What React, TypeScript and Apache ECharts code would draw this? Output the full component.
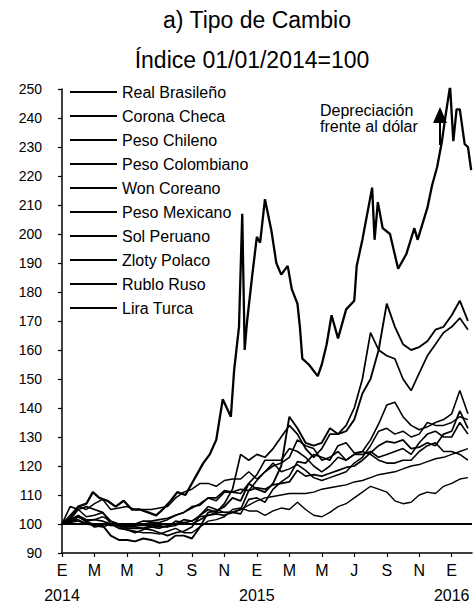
import React, { useEffect, useRef } from "react";
import * as echarts from "echarts";

// ---------- data ----------
const TITLE_LINE_1 = "a) Tipo de Cambio";
const TITLE_LINE_2 = "Índice 01/01/2014=100";
const NOTE_LINE_1 = "Depreciación";
const NOTE_LINE_2 = "frente al dólar";

const MONTH_LABELS = ["E", "M", "M", "J", "S", "N"];
const YEAR_LABELS: Record<number, string> = { 0: "2014", 12: "2015", 24: "2016" };

const BASE_INDEX = 100;
const Y_MIN = 90;
const Y_MAX = 250;
const Y_STEP = 10;
const X_MAX = 25.25; // months since 01/01/2014

// semi-monthly sampling (months since 01/01/2014)
const HALF_MONTHS = Array.from({ length: 51 }, (_, i) => i / 2);

const REAL_BRASILENO = [100, 100.5, 102.5, 101, 99, 99.5, 96, 94.5, 94.5, 94, 95, 94.5, 93.5, 94, 96, 96, 95, 99, 104, 104.5, 106, 109, 108, 114, 112, 111, 114, 120, 137, 133, 128, 127, 128, 133, 131, 132, 136, 145, 150, 160, 176, 168, 162, 160, 161, 163, 167, 168, 172, 177, 170];
const CORONA_CHECA = [100, 101, 101.5, 100, 99.5, 99, 100, 99.5, 99, 100, 101, 101, 101.5, 102, 103, 104, 105.5, 107, 109, 108, 111, 111, 112, 111.5, 115, 118, 120, 121, 123, 129, 127, 126, 122, 123, 125, 122, 124, 125, 124, 122, 121, 121, 122, 122, 125, 127, 128, 125, 125, 124, 122];
const PESO_CHILENO = [100, 103, 106, 105, 107, 108.5, 105, 105.5, 106, 105, 105, 105, 105.5, 106, 109, 111, 112, 114, 114, 113, 115, 115.5, 115.5, 118, 115.5, 118, 121, 118, 119, 120.5, 118.5, 116, 115, 116, 117, 118, 121, 123, 127, 132, 133, 131, 132, 130, 131, 135, 134, 134, 135, 137, 136];
const PESO_COLOMBIANO = [100, 101.5, 105, 106, 105, 104, 101, 100, 99, 99, 98.5, 98, 97, 96, 97, 97.5, 99, 103, 105, 104, 107, 112, 124, 122, 124, 123, 126, 130, 134, 131, 126, 123, 126, 131, 131, 134, 140, 150, 166, 160, 158, 157, 150, 146, 152, 158, 162, 166, 168, 171, 167];
const WON_COREANO = [100, 101.5, 103, 101.5, 101.5, 102.5, 101, 99, 98, 97.5, 97, 97, 96.5, 97.5, 98.5, 97, 97, 99, 101, 101.5, 102.5, 105, 105.5, 104.5, 104.5, 103, 104.5, 105.5, 105, 107.5, 105, 103, 102.5, 104, 106, 107, 109, 111, 113, 112, 111, 108, 107, 107.5, 110, 111, 110.5, 113, 114, 115.5, 116];
const PESO_MEXICANO = [100, 101.5, 102.5, 101, 101.5, 101, 100, 99.5, 98.5, 98.5, 98.5, 99.5, 99, 99, 101, 100.5, 100, 101.5, 103, 103.5, 103, 104, 105, 111.5, 112.5, 112, 113.5, 114, 114.5, 118.5, 116.5, 117, 116.5, 117.5, 118.5, 119.5, 120, 122, 124.5, 127, 128.5, 128, 129, 126, 126.5, 128, 127, 131, 132, 139, 133];
const SOL_PERUANO = [100, 100.5, 101, 100, 100, 100, 99.5, 99.5, 99.5, 99.5, 99.5, 99.5, 99.5, 99, 99.5, 100.5, 101, 102.5, 103, 104, 104, 104, 105, 106.5, 108, 109, 109.5, 110, 110.5, 110.5, 110.5, 111, 112, 112.5, 113, 113.5, 114.5, 115, 116, 117, 117.5, 118, 119, 120, 120.5, 121.5, 122.5, 123, 124, 125, 126];
const ZLOTY_POLACO = [100, 101, 103, 100.5, 100, 100, 99.5, 100, 99.5, 100, 100, 100.5, 100.5, 101.5, 103, 104, 106, 106.5, 109, 109, 111.5, 111, 110.5, 114, 117, 122, 122, 122, 126, 125, 123, 120, 118, 120, 123, 122, 124, 124, 125, 123, 124, 125, 126, 124, 128, 131, 132, 130, 130, 135, 131];
const LIRA_TURCA = [100, 106, 105, 102.5, 103, 104, 100, 98.5, 98, 97, 98, 99, 98.5, 99.5, 100, 101.5, 101, 103, 106, 105, 104, 104, 103.5, 108.5, 109, 107.5, 112, 114.5, 116.5, 121.5, 121, 124, 123, 122, 127, 128, 124.5, 125, 129, 134.5, 141, 142, 137, 134, 132.5, 133.5, 135, 136, 138, 146, 138];
// ruble read at finer resolution: [months since 01/01/2014, index]
const RUBLO_RUSO: [number, number][] = [
  [0, 100], [0.5, 102], [1, 106], [1.5, 107], [1.9, 111], [2.3, 109], [2.8, 108], [3.3, 106], [3.8, 108], [4.3, 105],
  [4.8, 105], [5.3, 104], [5.8, 103], [6.2, 105], [6.7, 108], [7.1, 111], [7.6, 110], [8.1, 115], [8.7, 121], [9.1, 124],
  [9.5, 129], [9.9, 143], [10.15, 140], [10.4, 137], [10.6, 153], [10.9, 168], [11.1, 207], [11.25, 160], [11.4, 170], [11.7, 185],
  [12.0, 199], [12.2, 197], [12.5, 212], [12.9, 201], [13.2, 190], [13.5, 186], [13.9, 189], [14.15, 181], [14.5, 176], [14.65, 168],
  [14.8, 157], [15.2, 155], [15.75, 151], [16.0, 155], [16.3, 162], [16.6, 172], [17.0, 164], [17.5, 174], [18.0, 177], [18.15, 189],
  [18.5, 198], [19.1, 216], [19.25, 198], [19.45, 211], [19.75, 202], [20.2, 200], [20.7, 188], [21.2, 193], [21.7, 202], [21.9, 198],
  [22.5, 209], [22.8, 217], [23.1, 223], [23.4, 232], [23.6, 240], [23.9, 251], [24.1, 232], [24.3, 243], [24.5, 243], [24.8, 231],
  [25.0, 230], [25.2, 222],
];

const SERIES_NAMES = [
  "Real Brasileño", "Corona Checa", "Peso Chileno", "Peso Colombiano", "Won Coreano",
  "Peso Mexicano", "Sol Peruano", "Zloty Polaco", "Rublo Ruso", "Lira Turca",
];

const FONT = '"Liberation Sans", Arial, sans-serif';

function pairs(values: number[]): [number, number][] {
  return values.map((v, i) => [HALF_MONTHS[i], v]);
}

export default function App() {
  const ref = useRef<HTMLDivElement>(null);

  useEffect(() => {
    if (!ref.current) return;
    const chart = echarts.init(ref.current, undefined, { renderer: "svg" });

    const seriesData: [number, number][][] = [
      pairs(REAL_BRASILENO),
      pairs(CORONA_CHECA),
      pairs(PESO_CHILENO),
      pairs(PESO_COLOMBIANO),
      pairs(WON_COREANO),
      pairs(PESO_MEXICANO),
      pairs(SOL_PERUANO),
      pairs(ZLOTY_POLACO),
      RUBLO_RUSO,
      pairs(LIRA_TURCA),
    ];
    const widths = [1.9, 1.6, 1.5, 1.7, 1.4, 1.7, 1.4, 1.6, 2.3, 1.6];

    const series: any[] = SERIES_NAMES.map((name, k) => ({
      name,
      type: "line",
      data: seriesData[k],
      showSymbol: false,
      symbol: "none",
      color: "#000",
      lineStyle: { color: "#000", width: widths[k] },
      silent: true,
      z: 3,
    }));
    series[4].markLine = {
      silent: true,
      symbol: ["none", "none"],
      label: { show: false },
      lineStyle: { color: "#000", width: 2, type: "solid" },
      data: [{ yAxis: BASE_INDEX }],
    };

    chart.setOption({
      animation: false,
      backgroundColor: "#fff",
      textStyle: { fontFamily: FONT, color: "#000" },
      grid: { left: 62, right: 2, top: 89, bottom: 61, containLabel: false },
      legend: {
        orient: "vertical",
        left: 65,
        top: 79,
        icon: "rect",
        itemWidth: 47,
        itemHeight: 2,
        itemGap: 8,
        data: SERIES_NAMES,
        itemStyle: { color: "#000", borderWidth: 0 },
        textStyle: { fontFamily: FONT, fontSize: 16, color: "#000" },
        selectedMode: false,
      },
      xAxis: {
        type: "value",
        min: 0,
        max: X_MAX,
        interval: 2,
        splitLine: { show: false },
        axisLine: { show: true, lineStyle: { color: "#000", width: 1.5 } },
        axisTick: { show: true, length: 4, lineStyle: { color: "#000", width: 1.2 } },
        axisLabel: {
          showMaxLabel: false,
          margin: 5,
          fontSize: 16,
          lineHeight: 25,
          color: "#000",
          fontFamily: FONT,
          formatter: (v: number) => {
            const m = Math.round(v);
            if (Math.abs(v - m) > 1e-6 || m % 2 !== 0) return "";
            const label = MONTH_LABELS[(m / 2) % 6];
            const year = YEAR_LABELS[m];
            return year ? label + "\n" + year : label;
          },
        },
      },
      yAxis: {
        type: "value",
        min: Y_MIN,
        max: Y_MAX,
        interval: Y_STEP,
        splitLine: { show: false },
        axisLine: { show: true, lineStyle: { color: "#000", width: 1.5 } },
        axisTick: { show: true, length: 4, lineStyle: { color: "#000", width: 1.2 } },
        axisLabel: { margin: 20, fontSize: 14, color: "#000", fontFamily: FONT },
      },
      graphic: [
        {
          type: "text",
          x: 257,
          y: 20,
          style: { text: TITLE_LINE_1, fontSize: 23, fontFamily: FONT, fill: "#000", align: "center", verticalAlign: "middle" },
        },
        {
          type: "text",
          x: 252,
          y: 60,
          style: { text: TITLE_LINE_2, fontSize: 23, fontFamily: FONT, fill: "#000", align: "center", verticalAlign: "middle" },
        },
        {
          type: "text",
          x: 320,
          y: 110,
          style: { text: NOTE_LINE_1, fontSize: 16, fontFamily: FONT, fill: "#000", align: "left", verticalAlign: "middle" },
        },
        {
          type: "text",
          x: 320,
          y: 126,
          style: { text: NOTE_LINE_2, fontSize: 16, fontFamily: FONT, fill: "#000", align: "left", verticalAlign: "middle" },
        },
        {
          type: "polygon",
          shape: { points: [[433, 123], [447, 123], [440, 107]] },
          style: { fill: "#000" },
          z: 10,
        },
        {
          type: "line",
          shape: { x1: 440, y1: 122, x2: 440, y2: 145 },
          style: { stroke: "#000", lineWidth: 2 },
          z: 10,
        },
      ],
      series,
    });

    return () => chart.dispose();
  }, []);

  return (
    <div
      ref={ref}
      style={{ position: "fixed", left: 0, top: 0, width: 474, height: 614, background: "#fff" }}
    />
  );
}
